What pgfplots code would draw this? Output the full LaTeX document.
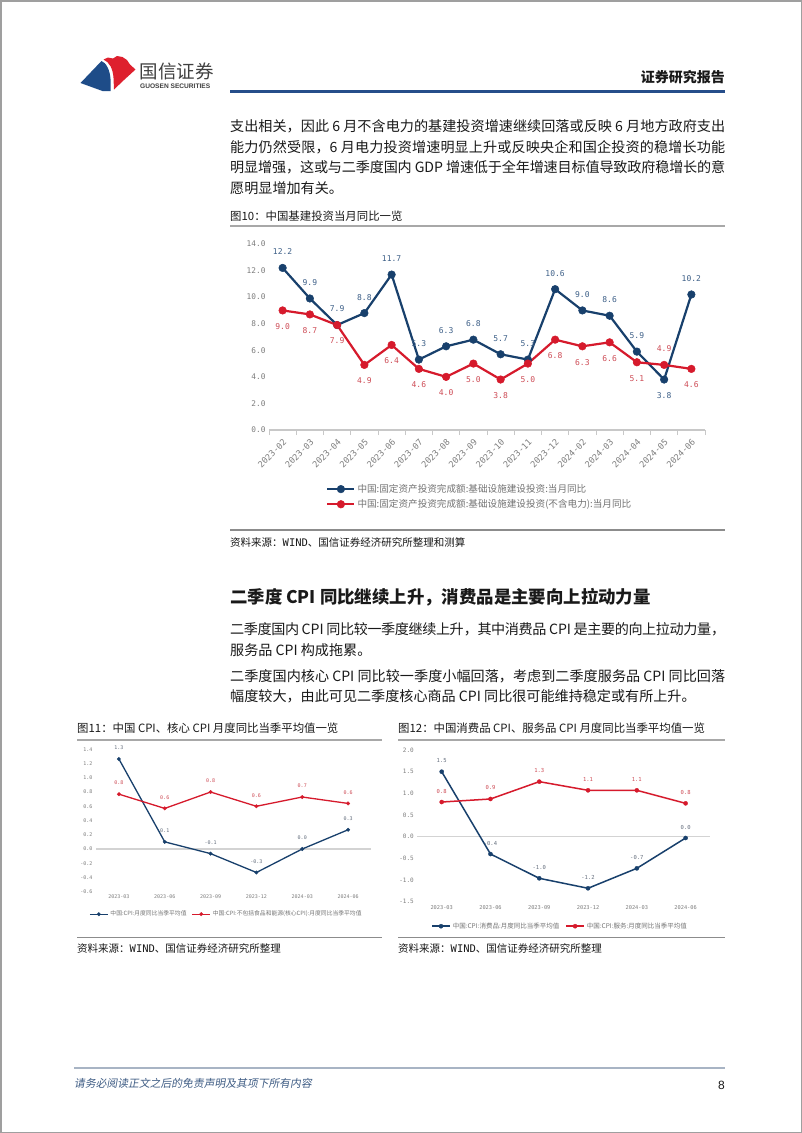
\documentclass[border=0pt]{standalone}
\usepackage{fontspec}
\usepackage{pgfplots}
\pgfplotsset{compat=1.18}
\usepackage{pgfplotstable}
\setmainfont{Noto Sans CJK SC}
\newfontfamily\monofont{DejaVu Sans Mono}
\newfontfamily\latinsans{Liberation Sans}
\newfontfamily\slantcjk[FakeSlant=0.18]{Noto Sans CJK SC}
\XeTeXlinebreaklocale "zh"
\XeTeXlinebreakskip=0pt plus 3pt minus 0.8pt
\newcommand{\fs}[2]{\fontsize{#1}{#2}\selectfont}

\definecolor{navy}{RGB}{24,64,108}
\definecolor{cred}{RGB}{214,26,44}
\definecolor{navylab}{RGB}{62,96,136}
\definecolor{redlab}{RGB}{206,76,86}
\definecolor{graylab}{RGB}{100,110,125}
\definecolor{tickgray}{RGB}{125,125,125}
\definecolor{leggray}{RGB}{115,115,115}
\definecolor{axgray}{RGB}{200,200,200}
\definecolor{hdrblue}{RGB}{38,78,138}
\definecolor{capline}{RGB}{168,168,168}
\definecolor{srcline}{RGB}{140,140,140}
\definecolor{logoblue}{RGB}{30,76,136}
\definecolor{logored}{RGB}{222,32,46}
\definecolor{foot}{RGB}{62,92,132}
\definecolor{footline}{RGB}{168,180,196}
\definecolor{txt}{RGB}{25,25,25}
\definecolor{logotxt}{RGB}{64,64,64}

\pgfplotstableread{
x y lab
0 12.2 12.2
1 9.9 9.9
2 7.9 7.9
3 8.8 8.8
4 11.7 11.7
5 5.3 5.3
6 6.3 6.3
7 6.8 6.8
8 5.7 5.7
9 5.3 5.3
10 10.6 10.6
11 9.0 9.0
12 8.6 8.6
13 5.9 5.9
14 3.8 {}
15 10.2 10.2
}\tabA
\pgfplotstableread{
x y lab
0 9.0 9.0
1 8.7 8.7
2 7.9 7.9
3 4.9 4.9
4 6.4 6.4
5 4.6 4.6
6 4.0 4.0
7 5.0 5.0
8 3.8 3.8
9 5.0 5.0
10 6.8 6.8
11 6.3 6.3
12 6.6 6.6
13 5.1 5.1
14 4.9 {}
15 4.6 4.6
}\tabB
\pgfplotstableread{
x y lab
0 1.264 1.3
1 0.10 0.1
2 -0.065 -0.1
3 -0.33 -0.3
4 0.0 0.0
5 0.27 0.3
}\tabC
\pgfplotstableread{
x y lab
0 0.77 0.8
1 0.57 0.6
2 0.80 0.8
3 0.60 0.6
4 0.73 0.7
5 0.64 0.6
}\tabD
\pgfplotstableread{
x y lab
0 1.50 1.5
1 -0.40 -0.4
2 -0.96 -1.0
3 -1.19 -1.2
4 -0.73 -0.7
5 -0.03 0.0
}\tabE
\pgfplotstableread{
x y lab
0 0.80 0.8
1 0.87 0.9
2 1.27 1.3
3 1.07 1.1
4 1.07 1.1
5 0.77 0.8
}\tabF

\newcommand{\jline}[2]{\node[anchor=west, inner sep=0pt, text width=495pt, align=justify, font=\fs{14.1}{19}, text=txt] at (230,-#1) {\parfillskip=0pt\noindent #2\par};}
\newcommand{\pline}[2]{\node[anchor=west, inner sep=0pt, font=\fs{14.1}{19}, text=txt] at (230,-#1) {#2};}

\begin{document}
\begin{tikzpicture}[x=1pt,y=1pt]
\useasboundingbox (0,0) rectangle (802,-1133);
\fill[white] (0,0) rectangle (802,-1133);
\draw[gray!75, line width=1.5pt] (0.75,-0.75) rectangle (801.25,-1132.25);

% logo
\fill[logoblue] (80.5,-83) -- (101.5,-61) .. controls (106,-62.5) and (110,-70) .. (110.5,-79) -- (110.5,-91) -- (102.5,-91) -- cycle;
\fill[logored] (103.5,-59.5) -- (108,-57.5) -- (113,-58.5) -- (117,-56) -- (122.5,-57) -- (127,-60) -- (130,-64.5) -- (135.5,-69.5) -- (124,-80) -- (114,-89.5) -- (113.5,-78) .. controls (113,-69) and (109.5,-62) .. (103.5,-59.5) -- cycle;
\node[anchor=west, inner sep=0pt, font=\fs{18.5}{20}, text=logotxt] at (139.5,-71.5) {国信证券};
\node[anchor=west, inner sep=0pt, font=\latinsans\bfseries\fs{6.6}{7}, text=logotxt] at (140,-86.5) {GUOSEN SECURITIES};
\node[anchor=east, inner sep=0pt, font=\bfseries\fs{14}{16}, text=txt] at (725,-77) {证券研究报告};
\draw[hdrblue, line width=2.2pt] (230,-91.5) -- (725,-91.5);

% paragraph 1
\jline{126.5}{支出相关，因此 6 月不含电力的基建投资增速继续回落或反映 6 月地方政府支出}
\jline{147}{能力仍然受限，6 月电力投资增速明显上升或反映央企和国企投资的稳增长功能}
\jline{167.5}{明显增强，这或与二季度国内 GDP 增速低于全年增速目标值导致政府稳增长的意}
\pline{188}{愿明显增加有关。}

\node[anchor=west, inner sep=0pt, font=\fs{11.4}{13}, text=txt] at (230,-216) {图10：中国基建投资当月同比一览};
\draw[capline, line width=2pt] (230,-225.5) -- (725,-225.5);

% chart 1
\begin{axis}[
  at={(269pt,-430pt)}, anchor=south west,
  scale only axis, width=436pt, height=186pt,
  xmin=-0.5, xmax=15.5, ymin=0, ymax=14,
  clip=false,
  axis x line*=bottom, axis y line*=left,
  x axis line style={draw=axgray, line width=1.2pt},
  y axis line style={draw=none},
  ytick={0,2,4,6,8,10,12,14},
  yticklabels={0.0,2.0,4.0,6.0,8.0,10.0,12.0,14.0},
  xtick={0,...,15},
  xticklabels={2023-02,2023-03,2023-04,2023-05,2023-06,2023-07,2023-08,2023-09,2023-10,2023-11,2023-12,2024-02,2024-03,2024-04,2024-05,2024-06},
  major tick length=0pt,
  minor xtick={-0.5,0.5,...,15.5},
  minor tick length=5pt,
  tick align=outside,
  minor tick style={draw=axgray, line width=1pt},
  yticklabel style={font=\monofont\fs{7.8}{8}, text=tickgray},
  xticklabel shift=6pt,
  xticklabel style={font=\monofont\fs{8.6}{9}, text=tickgray, rotate=45, anchor=north east, inner sep=1.5pt},
  legend style={at={(0.131,-0.28)}, anchor=north west, draw=none, fill=none, inner sep=0pt, font=\fs{9.6}{10}, text=leggray, row sep=1.5pt},
  legend cell align=left,
  legend image code/.code={\draw[#1, mark repeat=2, mark phase=2] plot coordinates {(0pt,0pt) (13.5pt,0pt) (27pt,0pt)};},
]
\addplot[navy, line width=2.2pt, mark=*, mark size=3.8pt, mark options={solid, fill=navy, line width=0.5pt},
  nodes near coords, point meta=explicit symbolic, nodes near coords align={center},
  nodes near coords style={font=\monofont\fs{8}{8}, text=navylab, yshift=16pt}] table[x=x,y=y,meta=lab]{\tabA};
\addlegendentry{中国:固定资产投资完成额:基础设施建设投资:当月同比}
\addplot[cred, line width=2.2pt, mark=*, mark size=3.8pt, mark options={solid, fill=cred, line width=0.5pt},
  nodes near coords, point meta=explicit symbolic, nodes near coords align={center},
  nodes near coords style={font=\monofont\fs{8}{8}, text=redlab, yshift=-16pt}] table[x=x,y=y,meta=lab]{\tabB};
\addlegendentry{中国:固定资产投资完成额:基础设施建设投资(不含电力):当月同比}
\addplot[draw=none, forget plot, nodes near coords, point meta=explicit symbolic, nodes near coords align={center},
  nodes near coords style={font=\monofont\fs{8}{8}, text=navylab, yshift=-16pt}] coordinates {(14,3.8) [3.8]};
\addplot[draw=none, forget plot, nodes near coords, point meta=explicit symbolic, nodes near coords align={center},
  nodes near coords style={font=\monofont\fs{8}{8}, text=redlab, yshift=16pt}] coordinates {(14,4.9) [4.9]};
\end{axis}

\draw[srcline, line width=1.5pt] (230,-530) -- (725,-530);
\node[anchor=west, inner sep=0pt, font=\fs{10.5}{12}, text=txt] at (230,-542) {资料来源：{\monofont WIND}、国信证券经济研究所整理和测算};

% section 2
\node[anchor=west, inner sep=0pt, font=\bfseries\fs{17.4}{20}, text=txt] at (230,-597.5) {二季度 CPI 同比继续上升，消费品是主要向上拉动力量};
\jline{629.5}{二季度国内 CPI 同比较一季度继续上升，其中消费品 CPI 是主要的向上拉动力量，}
\pline{650}{服务品 CPI 构成拖累。}
\jline{676}{二季度国内核心 CPI 同比较一季度小幅回落，考虑到二季度服务品 CPI 同比回落}
\pline{696.5}{幅度较大，由此可见二季度核心商品 CPI 同比很可能维持稳定或有所上升。}

% captions
\node[anchor=west, inner sep=0pt, font=\fs{11.4}{13}, text=txt] at (77,-728.5) {图11：中国 CPI、核心 CPI 月度同比当季平均值一览};
\node[anchor=west, inner sep=0pt, font=\fs{11.4}{13}, text=txt] at (398,-728.5) {图12：中国消费品 CPI、服务品 CPI 月度同比当季平均值一览};
\draw[capline, line width=2pt] (77,-739.5) -- (382,-739.5);
\draw[capline, line width=2pt] (398,-739.5) -- (725,-739.5);

% chart 2
\begin{axis}[
  at={(96pt,-891.7pt)}, anchor=south west,
  scale only axis, width=275pt, height=142.4pt,
  xmin=-0.5, xmax=5.5, ymin=-0.6, ymax=1.4,
  clip=false,
  axis line style={draw=none}, tick style={draw=none},
  ytick={-0.6,-0.4,-0.2,0,0.2,0.4,0.6,0.8,1.0,1.2,1.4},
  yticklabels={-0.6,-0.4,-0.2,0.0,0.2,0.4,0.6,0.8,1.0,1.2,1.4},
  xtick={0,...,5},
  xticklabels={2023-03,2023-06,2023-09,2023-12,2024-03,2024-06},
  tick label style={font=\monofont\fs{5}{5}, text=tickgray},
  legend style={at={(-0.0255,-0.12)}, anchor=north west, draw=none, fill=none, inner sep=0pt, font=\fs{5.8}{6.5}, text=leggray, /tikz/every even column/.append style={column sep=3pt}},
  legend columns=2,
  legend image code/.code={\draw[#1, mark repeat=2, mark phase=2] plot coordinates {(0pt,0pt) (9pt,0pt) (18pt,0pt)};},
]
\addplot[axgray!80, line width=1.1pt, forget plot] coordinates {(-0.5,0) (5.5,0)};
\addplot[navy, line width=1.3pt, mark=*, mark size=1.8pt, mark options={solid, fill=navy, line width=0.3pt},
  nodes near coords, point meta=explicit symbolic, nodes near coords align={center},
  nodes near coords style={font=\monofont\fs{5}{5}, text=graylab, yshift=11pt}] table[x=x,y=y,meta=lab]{\tabC};
\addlegendentry{中国:CPI:月度同比当季平均值}
\addplot[cred, line width=1.3pt, mark=*, mark size=1.8pt, mark options={solid, fill=cred, line width=0.3pt},
  nodes near coords, point meta=explicit symbolic, nodes near coords align={center},
  nodes near coords style={font=\monofont\fs{5}{5}, text=redlab, yshift=11pt}] table[x=x,y=y,meta=lab]{\tabD};
\addlegendentry{中国:CPI:不包括食品和能源(核心CPI):月度同比当季平均值}
\end{axis}

% chart 3
\begin{axis}[
  at={(417.3pt,-901.7pt)}, anchor=south west,
  scale only axis, width=292.7pt, height=151.7pt,
  xmin=-0.5, xmax=5.5, ymin=-1.5, ymax=2.0,
  clip=false,
  axis line style={draw=none}, tick style={draw=none},
  ytick={-1.5,-1,-0.5,0,0.5,1,1.5,2},
  yticklabels={-1.5,-1.0,-0.5,0.0,0.5,1.0,1.5,2.0},
  xtick={0,...,5},
  xticklabels={2023-03,2023-06,2023-09,2023-12,2024-03,2024-06},
  tick label style={font=\monofont\fs{5.3}{5.5}, text=tickgray},
  yticklabel style={font=\monofont\fs{6}{6}},
  legend style={at={(0.047,-0.124)}, anchor=north west, draw=none, fill=none, inner sep=0pt, font=\fs{6.5}{7}, text=leggray, /tikz/every even column/.append style={column sep=4pt}},
  legend columns=2,
  legend image code/.code={\draw[#1, mark repeat=2, mark phase=2] plot coordinates {(0pt,0pt) (9pt,0pt) (18pt,0pt)};},
]
\addplot[axgray!80, line width=1.1pt, forget plot] coordinates {(-0.5,0) (5.5,0)};
\addplot[navy, line width=1.5pt, mark=*, mark size=2.1pt, mark options={solid, fill=navy, line width=0.3pt},
  nodes near coords, point meta=explicit symbolic, nodes near coords align={center},
  nodes near coords style={font=\monofont\fs{5.5}{5.5}, text=graylab, yshift=11pt}] table[x=x,y=y,meta=lab]{\tabE};
\addlegendentry{中国:CPI:消费品:月度同比当季平均值}
\addplot[cred, line width=1.5pt, mark=*, mark size=2.1pt, mark options={solid, fill=cred, line width=0.3pt},
  nodes near coords, point meta=explicit symbolic, nodes near coords align={center},
  nodes near coords style={font=\monofont\fs{5.5}{5.5}, text=redlab, yshift=11pt}] table[x=x,y=y,meta=lab]{\tabF};
\addlegendentry{中国:CPI:服务:月度同比当季平均值}
\end{axis}

\draw[srcline, line width=1.5pt] (77,-937.5) -- (382,-937.5);
\draw[srcline, line width=1.5pt] (398,-937.5) -- (725,-937.5);
\node[anchor=west, inner sep=0pt, font=\fs{10.5}{12}, text=txt] at (77,-948.5) {资料来源：{\monofont WIND}、国信证券经济研究所整理};
\node[anchor=west, inner sep=0pt, font=\fs{10.5}{12}, text=txt] at (398,-948.5) {资料来源：{\monofont WIND}、国信证券经济研究所整理};

% footer
\draw[footline, line width=2pt] (74,-1068) -- (725,-1068);
\node[anchor=west, inner sep=0pt, font=\slantcjk\fs{10.8}{12}, text=foot] at (74,-1083) {请务必阅读正文之后的免责声明及其项下所有内容};
\node[anchor=east, inner sep=0pt, font=\latinsans\fs{12}{13}, text=txt] at (725,-1085) {8};
\end{tikzpicture}
\end{document}
